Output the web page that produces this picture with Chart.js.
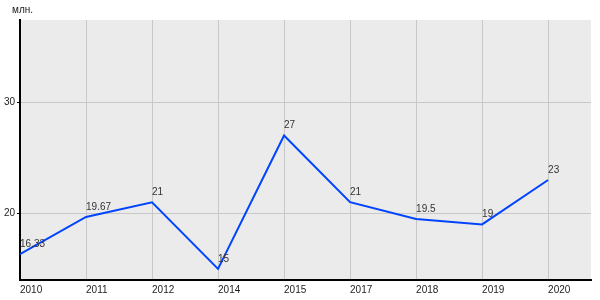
<!DOCTYPE html>
<html>
<head>
<meta charset="utf-8">
<script src="https://cdn.jsdelivr.net/npm/chart.js@4/dist/chart.umd.min.js"></script>
<style>
  html, body { margin: 0; padding: 0; background: #fff; }
  #wrap { width: 600px; height: 300px; }
</style>
</head>
<body>
<div id="wrap"><canvas id="myChart"></canvas></div>
<script>
var years = ['2010', '2011', '2012', '2014', '2015', '2017', '2018', '2019', '2020'];
var values = [16.33, 19.67, 21, 15, 27, 21, 19.5, 19, 23];
var valueLabels = ['16.33', '19.67', '21', '15', '27', '21', '19.5', '19', '23'];
var yTicks = [20, 30];
var unitLabel = 'млн.';

var points = values.map(function (v, i) { return { x: i, y: v }; });

var plotBg = {
    id: 'plotBg',
    beforeDraw: function (chart) {
        var a = chart.chartArea, ctx = chart.ctx;
        ctx.save();
        ctx.fillStyle = '#ebebeb';
        ctx.fillRect(a.left, a.top, a.right - a.left, a.bottom - a.top);
        ctx.restore();
    },
    afterDatasetsDraw: function (chart) {
        var ctx = chart.ctx;
        var meta = chart.getDatasetMeta(0);
        ctx.save();
        ctx.font = '10px "Liberation Sans", Arial, sans-serif';
        ctx.fillStyle = '#333';
        ctx.textAlign = 'left';
        ctx.textBaseline = 'bottom';
        meta.data.forEach(function (pt, i) {
            ctx.fillText(valueLabels[i], pt.x, pt.y - 5);
        });
        ctx.fillStyle = '#222';
        ctx.fillText(unitLabel, 12, 15);
        ctx.restore();
    }
};

function createChart() {
    var ctx = document.getElementById('myChart').getContext('2d');
    new Chart(ctx, {
        type: 'line',
        data: {
            datasets: [{
                data: points,
                borderColor: '#0044ff',
                borderWidth: 2,
                pointRadius: 0,
                tension: 0,
                fill: false
            }]
        },
        options: {
            responsive: true,
            maintainAspectRatio: false,
            animation: false,
            layout: { padding: { top: 20, right: 9, left: 0, bottom: 0 } },
            plugins: { legend: { display: false }, tooltip: { enabled: false } },
            scales: {
                x: {
                    type: 'linear',
                    min: 0,
                    max: 8.65,
                    afterBuildTicks: function (scale) {
                        scale.ticks = years.map(function (y, i) { return { value: i }; });
                    },
                    afterFit: function (scale) { scale.height = 20; },
                    border: { color: '#000', width: 2 },
                    grid: { color: '#c8c8c8', tickLength: 0, drawTicks: false },
                    ticks: {
                        autoSkip: false,
                        maxRotation: 0,
                        align: 'start',
                        padding: 4,
                        color: '#222',
                        font: { size: 10, family: '"Liberation Sans", Arial, sans-serif' },
                        callback: function (v) { return years[v] || ''; }
                    }
                },
                y: {
                    type: 'linear',
                    min: 14,
                    max: 37.4,
                    afterBuildTicks: function (scale) {
                        scale.ticks = yTicks.map(function (v) { return { value: v }; });
                    },
                    afterFit: function (scale) { scale.width = 20; },
                    border: { color: '#000', width: 2 },
                    grid: { color: '#c8c8c8', tickColor: '#000', tickLength: 3 },
                    ticks: {
                        padding: 2,
                        color: '#222',
                        font: { size: 10, family: '"Liberation Sans", Arial, sans-serif' }
                    }
                }
            }
        },
        plugins: [plotBg]
    });
}
createChart();
</script>
</body>
</html>
